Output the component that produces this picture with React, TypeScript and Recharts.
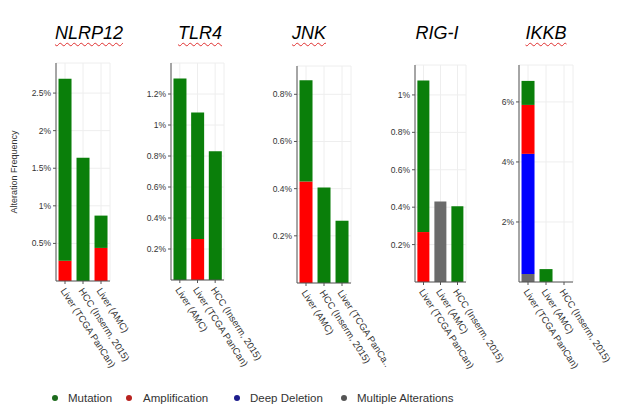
import React from "react";
import { BarChart, Bar, XAxis, YAxis, CartesianGrid } from "recharts";

// alteration frequency (%) per study
const nlrpStudies = ["Liver (TCGA PanCan)", "HCC (Inserm, 2015)", "Liver (AMC)"];
const nlrpMutation = [2.42, 1.64, 0.43];
const nlrpAmp = [0.27, 0, 0.44];

const tlrStudies = ["Liver (AMC)", "Liver (TCGA PanCan)", "HCC (Inserm, 2015)"];
const tlrMutation = [1.3, 0.815, 0.83];
const tlrAmp = [0, 0.265, 0];

const jnkStudies = ["Liver (AMC)", "HCC (Inserm, 2015)", "Liver (TCGA PanCa.."];
const jnkMutation = [0.43, 0.405, 0.264];
const jnkAmp = [0.43, 0, 0];

const rigStudies = ["Liver (TCGA PanCan)", "Liver (AMC)", "HCC (Inserm, 2015)"];
const rigMutation = [0.81, 0, 0.405];
const rigAmp = [0.267, 0, 0];
const rigMultiple = [0, 0.43, 0];

const ikkStudies = ["Liver (TCGA PanCan)", "Liver (AMC)", "HCC (Inserm, 2015)"];
const ikkMutation = [0.8, 0.43, 0];
const ikkAmp = [1.63, 0, 0];
const ikkDeep = [4.0, 0, 0];
const ikkMultiple = [0.27, 0, 0];

const nlrpTicks = [0.5, 1, 1.5, 2, 2.5];
const tlrTicks = [0.2, 0.4, 0.6, 0.8, 1, 1.2];
const jnkTicks = [0.2, 0.4, 0.6, 0.8];
const rigTicks = [0.2, 0.4, 0.6, 0.8, 1];
const ikkTicks = [2, 4, 6];

const GREEN = "#0a7f0a";
const RED = "#ff0000";
const BLUE = "#0000ff";
const GRAY = "#6b6b6b";

const zeros = [0, 0, 0];

function rows(studies, mutation, amp, deep = zeros, multiple = zeros) {
  return studies.map((s, i) => ({
    study: s,
    multiple: multiple[i],
    deep: deep[i],
    amp: amp[i],
    mutation: mutation[i],
  }));
}

const fmtPct = (v) => `${v}%`;

const XTick = ({ x, y, payload }) => (
  <g transform={`translate(${x - 2},${y + 3})`}>
    <text transform="rotate(57)" textAnchor="start" dy="0.35em" fontSize={9.5} fill="#333">
      {payload.value}
    </text>
  </g>
);

const panels = [
  { title: "NLRP12", cx: 89, axisX: 56, top: 63, base: 281, right: 110, max: 2.9, ticks: nlrpTicks, wavy: true,
    data: rows(nlrpStudies, nlrpMutation, nlrpAmp) },
  { title: "TLR4", cx: 200, axisX: 171, top: 63, base: 280, right: 224, max: 1.4, ticks: tlrTicks, wavy: true,
    data: rows(tlrStudies, tlrMutation, tlrAmp) },
  { title: "JNK", cx: 309, axisX: 297, top: 66, base: 283, right: 351, max: 0.92, ticks: jnkTicks, wavy: true,
    data: rows(jnkStudies, jnkMutation, jnkAmp) },
  { title: "RIG-I", cx: 437, axisX: 415, top: 65, base: 282, right: 466, max: 1.16, ticks: rigTicks, wavy: false,
    data: rows(rigStudies, rigMutation, rigAmp, zeros, rigMultiple) },
  { title: "IKKB", cx: 546, axisX: 519, top: 65, base: 282, right: 573, max: 7.23, ticks: ikkTicks, wavy: true,
    data: rows(ikkStudies, ikkMutation, ikkAmp, ikkDeep, ikkMultiple) },
];

const legendItems = [
  { label: "Mutation", color: "#1d6b1d", dot: 55, text: 68 },
  { label: "Amplification", color: "#b8221f", dot: 129, text: 143 },
  { label: "Deep Deletion", color: "#1c1c8c", dot: 237, text: 250 },
  { label: "Multiple Alterations", color: "#555555", dot: 344, text: 357 },
];

const YW = 45;
const XH = 100;
const RM = 70; // room on the right for the slanted study names

function Panel({ p }) {
  const w = YW + (p.right - p.axisX) + RM;
  const h = 2 + (p.base - p.top) + XH;
  return (
    <div style={{ position: "absolute", left: p.axisX - YW, top: p.top - 2 }}>
      <BarChart width={w} height={h} data={p.data} margin={{ top: 2, right: RM, left: 0, bottom: 0 }}
        barCategoryGap="14%">
        <CartesianGrid stroke="#eeeeee" />
        <XAxis dataKey="study" interval={0} height={XH} tick={<XTick />} tickSize={3}
          axisLine={{ stroke: "#555" }} tickLine={{ stroke: "#555" }} />
        <YAxis width={YW} domain={[0, p.max]} ticks={p.ticks} tickFormatter={fmtPct} tickSize={3}
          tick={{ fontSize: 8.5, fill: "#333" }} axisLine={{ stroke: "#555" }} tickLine={{ stroke: "#555" }} />
        <Bar dataKey="multiple" stackId="a" fill={GRAY} isAnimationActive={false} />
        <Bar dataKey="deep" stackId="a" fill={BLUE} isAnimationActive={false} />
        <Bar dataKey="amp" stackId="a" fill={RED} isAnimationActive={false} />
        <Bar dataKey="mutation" stackId="a" fill={GREEN} isAnimationActive={false} />
      </BarChart>
    </div>
  );
}

export default function App() {
  return (
    <div style={{ position: "absolute", left: 0, top: 0, width: 617, height: 418, background: "#fff",
      fontFamily: "'Liberation Sans', Arial, sans-serif", overflow: "hidden" }}>
      {panels.map((p) => (
        <div key={p.title + "t"} style={{ position: "absolute", left: p.cx - 50, width: 100, top: 23,
          textAlign: "center", fontSize: 18, lineHeight: "20px", fontStyle: "italic", color: "#000",
          textDecoration: p.wavy ? "underline wavy #e03030" : "none", textDecorationThickness: 1,
          textUnderlineOffset: 3 }}>
          {p.title}
        </div>
      ))}
      {panels.map((p) => <Panel key={p.title} p={p} />)}
      <div style={{ position: "absolute", left: 14, top: 172, transform: "translate(-50%,-50%) rotate(-90deg)",
        fontSize: 9, color: "#333", whiteSpace: "nowrap" }}>
        Alteration Frequency
      </div>
      {legendItems.map((l) => (
        <React.Fragment key={l.label}>
          <div style={{ position: "absolute", left: l.dot - 3, top: 395, width: 6, height: 6,
            borderRadius: 3, background: l.color }} />
          <div style={{ position: "absolute", left: l.text, top: 390, fontSize: 11.5, lineHeight: "16px",
            color: "#333", whiteSpace: "nowrap" }}>
            {l.label}
          </div>
        </React.Fragment>
      ))}
    </div>
  );
}
